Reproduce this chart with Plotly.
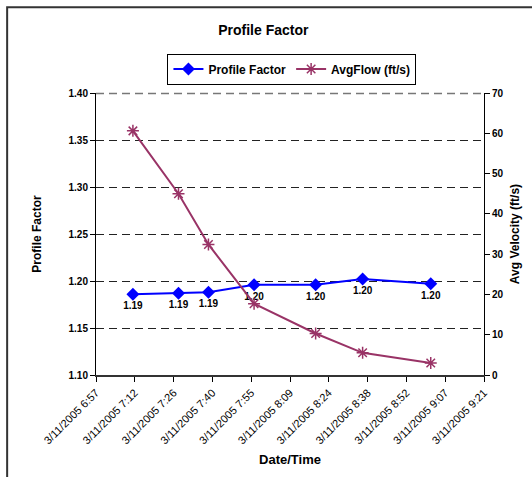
import plotly.graph_objects as go

times = ["2005-03-11 07:11:18", "2005-03-11 07:28:13", "2005-03-11 07:39:20",
         "2005-03-11 07:56:16", "2005-03-11 08:19:07", "2005-03-11 08:36:33",
         "2005-03-11 09:01:50"]
profile_factor = [1.186, 1.187, 1.188, 1.196, 1.196, 1.202, 1.197]
pf_labels = ["1.19", "1.19", "1.19", "1.20", "1.20", "1.20", "1.20"]
avg_flow = [60.6, 45.0, 32.4, 17.7, 10.3, 5.5, 3.0]

tick_vals = ["2005-03-11 06:57:36", "2005-03-11 07:12:00", "2005-03-11 07:26:24",
             "2005-03-11 07:40:48", "2005-03-11 07:55:12", "2005-03-11 08:09:36",
             "2005-03-11 08:24:00", "2005-03-11 08:38:24", "2005-03-11 08:52:48",
             "2005-03-11 09:07:12", "2005-03-11 09:21:36"]
tick_text = ["3/11/2005 6:57", "3/11/2005 7:12", "3/11/2005 7:26", "3/11/2005 7:40",
             "3/11/2005 7:55", "3/11/2005 8:09", "3/11/2005 8:24", "3/11/2005 8:38",
             "3/11/2005 8:52", "3/11/2005 9:07", "3/11/2005 9:21"]
left_ticks = [1.10, 1.15, 1.20, 1.25, 1.30, 1.35, 1.40]
right_ticks = [0, 10, 20, 30, 40, 50, 60, 70]

FONT = "Liberation Sans, Arial, sans-serif"

fig = go.Figure()
fig.add_trace(go.Scatter(
    x=times, y=profile_factor, name="<b>Profile Factor</b>", mode="lines+markers+text",
    line=dict(color="#0000FF", width=2),
    marker=dict(symbol="diamond", size=10, color="#0000FF"),
    text=pf_labels, textposition="bottom center",
    textfont=dict(family=FONT, size=10, color="#000000", weight="bold"),
    yaxis="y"))
fig.add_trace(go.Scatter(
    x=times, y=avg_flow, name="<b>AvgFlow (ft/s)</b>", mode="lines+markers",
    line=dict(color="#993366", width=2),
    marker=dict(symbol="asterisk-open", size=10, color="#993366",
                line=dict(color="#993366", width=1.5)),
    yaxis="y2"))

fig.update_layout(
    width=532, height=477,
    margin=dict(l=96, r=48, t=93, b=102),
    paper_bgcolor="white", plot_bgcolor="white",
    font=dict(family=FONT, size=10, color="#000000"),
    title=dict(text="<b>Profile Factor</b>", x=0.495, xanchor="center", y=0.937, yanchor="middle",
               font=dict(family=FONT, size=14, color="#000000")),
    showlegend=True,
    legend=dict(orientation="h", x=0.505, xanchor="center", y=1.14, yanchor="top",
                bordercolor="#000000", borderwidth=1, bgcolor="white",
                font=dict(family=FONT, size=12, color="#000000"),
                itemwidth=30, tracegroupgap=0),
    xaxis=dict(type="date",
               range=[tick_vals[0], tick_vals[-1]],
               tickvals=tick_vals, ticktext=tick_text, tickangle=-45,
               tickfont=dict(family=FONT, size=11, color="#000000"),
               ticks="outside", ticklen=5, tickcolor="#000000",
               showline=True, linecolor="#333333", linewidth=2,
               showgrid=False, zeroline=False,
               title=dict(text="<b>Date/Time</b>", font=dict(family=FONT, size=13, color="#000000"),
                          standoff=10)),
    yaxis=dict(range=[1.10, 1.40], tickvals=left_ticks,
               tickformat=".2f",
               tickfont=dict(family=FONT, size=10, color="#000000", weight="bold"),
               ticks="outside", ticklen=5, tickcolor="#000000",
               showline=True, linecolor="#000000", linewidth=1,
               showgrid=True, gridcolor="#222222", gridwidth=1, griddash="8px,5px",
               zeroline=False,
               title=dict(text="<b>Profile Factor</b>", font=dict(family=FONT, size=12, color="#000000"),
                          standoff=24)),
    yaxis2=dict(range=[0, 70], tickvals=right_ticks, overlaying="y", side="right",
                tickfont=dict(family=FONT, size=10, color="#000000", weight="bold"),
                ticks="outside", ticklen=5, tickcolor="#000000",
                showline=True, linecolor="#000000", linewidth=1,
                showgrid=False, zeroline=False,
                title=dict(text="<b>Avg Velocity (ft/s)</b>", font=dict(family=FONT, size=12, color="#000000"),
                           standoff=8)),
    shapes=[dict(type="rect", xref="paper", yref="paper",
                 x0=-0.229, x1=1.3, y0=-0.5, y1=1.304,
                 line=dict(color="#333333", width=2), fillcolor="rgba(0,0,0,0)", layer="below"),
            dict(type="line", xref="paper", yref="paper", x0=0, x1=1, y0=0.998, y1=0.998,
                 line=dict(color="#777777", width=1.5, dash="8px,5px"), layer="above")],
)

fig.write_html("out.html")
